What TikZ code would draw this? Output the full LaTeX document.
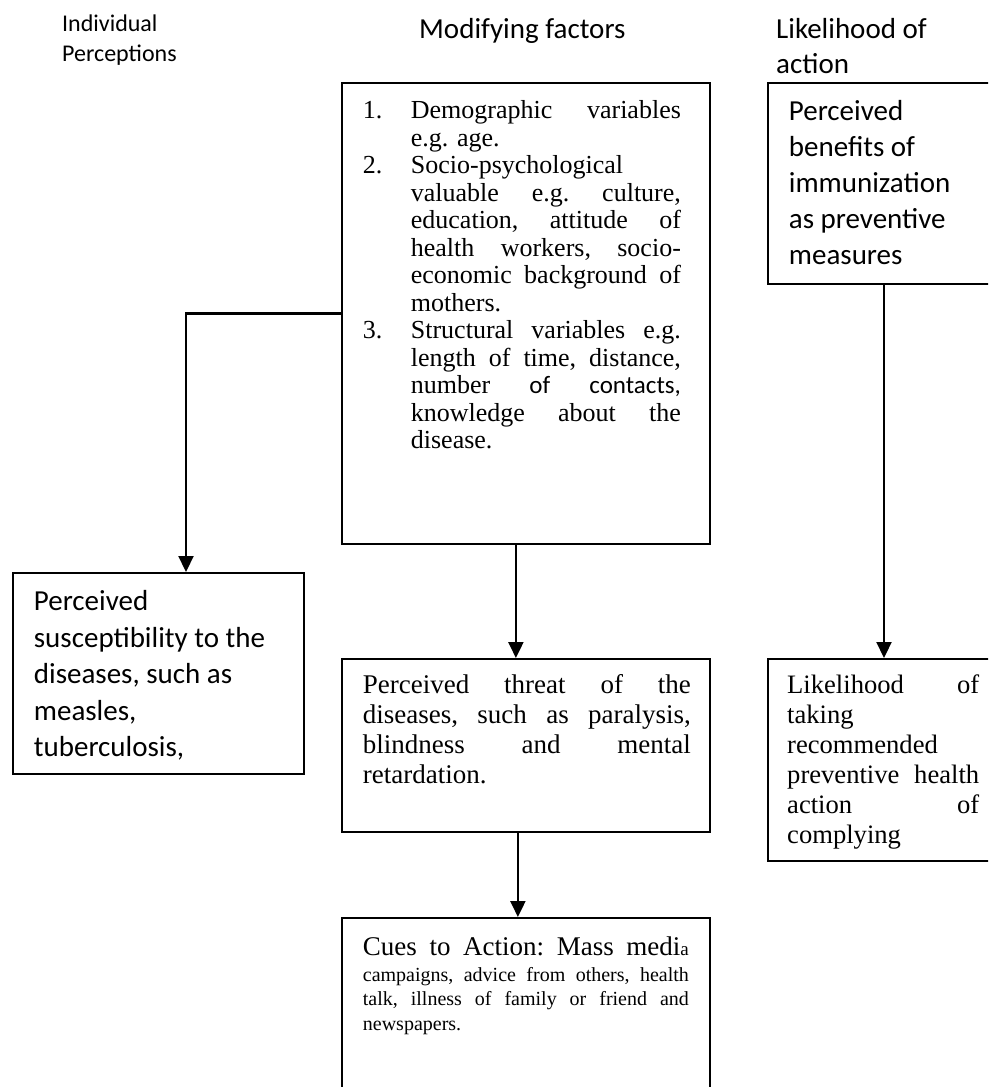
\documentclass[tikz,border=0pt]{standalone}
\usepackage{fontspec}
\setmainfont{Liberation Serif}
\newfontfamily\calfont{Carlito}
\usetikzlibrary{arrows.meta}
\newdimen\lpad \newdimen\tw
\newcommand\SP{\rule[-0.3\baselineskip]{0pt}{\baselineskip}}
\newcommand\jline[2][0pt]{\hbox to \hsize{\SP\hskip\dimexpr\lpad+#1\relax\hbox to \dimexpr\tw-#1\relax{\frenchspacing\spaceskip=.25em plus 1fil minus .1em\relax #2}\hss}}
\newcommand\rline[2][0pt]{\hbox to \hsize{\SP\hskip\dimexpr\lpad+#1\relax #2\hss}}
\newcommand\lab[1]{\makebox[48pt][l]{#1}}
\newcommand\tb[7]{\parbox[t][#2pt][t]{#1pt}{#6\lpad=#3pt\tw=#4pt\relax\vspace*{\dimexpr#5pt-0.7\baselineskip\relax}#7}}
\newcommand\cf[2]{\calfont\fontsize{#1pt}{#2pt}\selectfont}
\newcommand\tf[2]{\rmfamily\fontsize{#1pt}{#2pt}\selectfont}
\tikzset{
  box/.style={draw, line width=1.8pt, inner sep=0pt, anchor=north west},
  plain/.style={inner sep=0pt, anchor=north west},
  arr/.style={line width=2.2pt, -{Triangle[width=15pt,length=16pt]}},
}
\begin{document}
\begin{tikzpicture}[x=1pt,y=-1pt]
\useasboundingbox (0,0) rectangle (988,1087);
\clip (0,0) rectangle (988,1087);
% headers
\node[plain] (h1) at (62,0) {\tb{250}{70}{0}{250}{31}{\cf{24}{30.5}}{\rline{Individual}\rline{Perceptions}}};
\node[plain] (h2) at (419,0) {\tb{300}{50}{0}{300}{38}{\cf{29}{35.4}}{\rline{Modifying factors}}};
\node[plain] (h3) at (776,0) {\tb{210}{80}{0}{210}{38}{\cf{29}{35.4}}{\rline{Likelihood of}\rline{action}}};
% boxes
\node[box] (mod) at (341,82) {\tb{368}{461}{21}{318}{36}{\tf{26}{27.5}}{%
\jline{\lab{1.}Demographic variables}
\rline[48pt]{e.g. age.}
\rline{\lab{2.}Socio-psychological}
\jline[48pt]{valuable e.g. culture,}
\jline[48pt]{education, attitude of}
\jline[48pt]{health workers, socio-}
\jline[48pt]{economic background of}
\rline[48pt]{mothers.}
\jline{\lab{3.}Structural variables e.g.}
\jline[48pt]{length of time, distance,}
\jline[48pt]{number {\cf{25}{27.5}of} {\cf{25}{27.5}contacts,}}
\jline[48pt]{knowledge about the}
\rline[48pt]{disease.}}};
\node[box] (ben) at (767,82) {\tb{240}{201}{21}{210}{38}{\cf{29}{35.8}}{%
\rline{Perceived}
\rline{benefits of}
\rline{immunization}
\rline{as preventive}
\rline{measures}}};
\node[box] (sus) at (12,572) {\tb{291}{201}{21}{260}{38}{\cf{29}{36.5}}{%
\rline{Perceived}
\rline{susceptibility to the}
\rline{diseases, such as}
\rline{measles,}
\rline{tuberculosis,}}};
\node[box] (thr) at (341,658) {\tb{368}{173}{21}{328}{35}{\tf{27}{30}}{%
\jline{Perceived threat of the}
\jline{diseases, such as paralysis,}
\jline{blindness and mental}
\rline{retardation.}}};
\node[box, minimum width=240pt, minimum height=202pt] (lik) at (767,658) {};
\begin{scope}
\clip (767,658) rectangle (1007,848);
\node[plain] (likt) at (767,658) {\tb{240}{202}{20}{192}{35}{\tf{26.6}{30}}{%
\jline{Likelihood of}
\rline{taking}
\rline{recommended}
\jline{preventive health}
\jline{action of}
\rline{complying}}};
\end{scope}
\node[box] (cue) at (341,917) {\tb{368}{190}{21}{326}{36}{\tf{20}{24.5}}{%
\jline{{\fontsize{27pt}{24.5pt}\selectfont Cues to Action: Mass medi}{\fontsize{19pt}{24.5pt}\selectfont a}}
\vspace{1.5pt}
\jline{campaigns, advice from others, health}
\jline{talk, illness of family or friend and}
\rline{newspapers.}}};
% connectors
\coordinate (k1) at (186,0);
\coordinate (k2) at (884,0);
\draw[arr] (mod.west) -| (k1 |- sus.north);
\draw[arr] ([xshift=-10pt]mod.south) -- ([xshift=-10pt]thr.north);
\draw[arr] ([xshift=-8pt]thr.south) -- ([xshift=-8pt]cue.north);
\draw[arr] (ben.south -| k2) -- (lik.north -| k2);
\end{tikzpicture}
\end{document}
